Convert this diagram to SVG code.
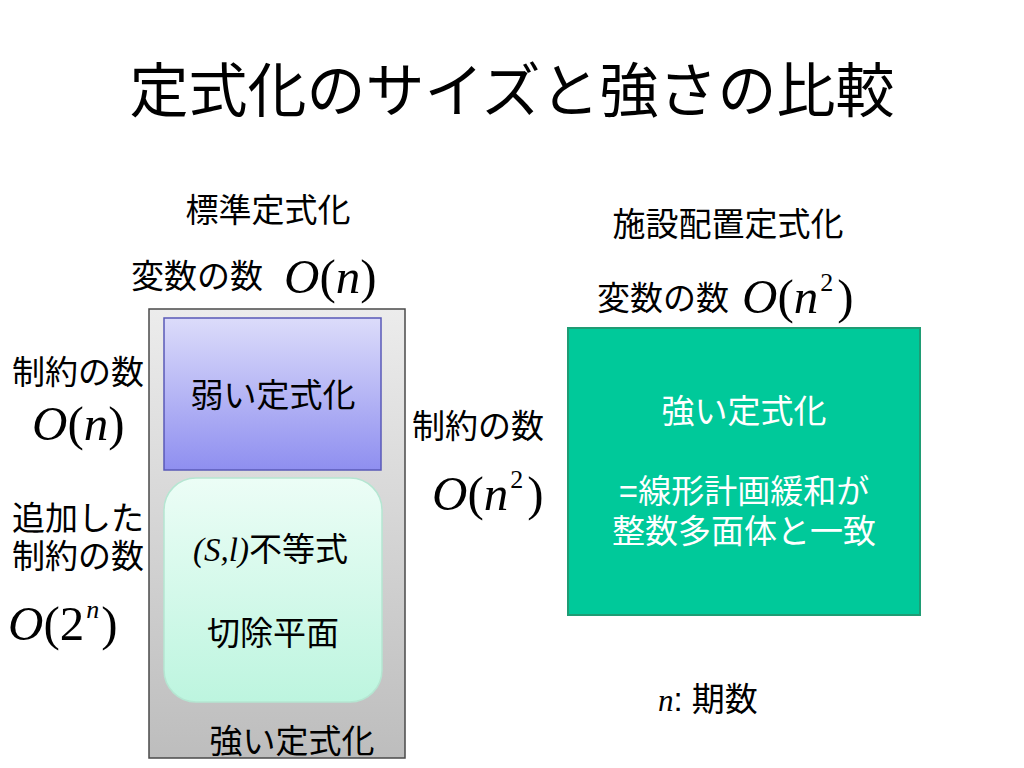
<svg xmlns="http://www.w3.org/2000/svg" width="1024" height="768" viewBox="0 0 1024 768">
<style>
.jp{font-family:"Liberation Sans","Noto Sans CJK JP",sans-serif;fill:#000}
.m{font-family:"Liberation Serif","Times New Roman",serif;font-style:italic;fill:#000}
.mr{font-family:"Liberation Serif","Times New Roman",serif;font-style:normal}
</style>
<defs>
<linearGradient id="gGray" x1="0" y1="0" x2="0" y2="1">
<stop offset="0" stop-color="#ececec"/><stop offset="1" stop-color="#bdbdbd"/>
</linearGradient>
<linearGradient id="gPurple" x1="0" y1="0" x2="0" y2="1">
<stop offset="0" stop-color="#dcdcfa"/><stop offset="1" stop-color="#8f8ff0"/>
</linearGradient>
<linearGradient id="gMint" x1="0" y1="0" x2="0" y2="1">
<stop offset="0" stop-color="#ecfdf6"/><stop offset="1" stop-color="#bdf5df"/>
</linearGradient>
</defs>
<rect width="1024" height="768" fill="#fff"/>
<text class="jp" x="512" y="112" font-size="59" text-anchor="middle">定式化のサイズと強さの比較</text>

<g id="left-header">
<text class="jp" x="268" y="222" font-size="33" text-anchor="middle">標準定式化</text>
<text class="jp" x="131" y="288" font-size="33">変数の数</text>
<text class="m" x="284" y="293" font-size="49"><tspan>O</tspan><tspan class="mr">(</tspan><tspan>n</tspan><tspan class="mr">)</tspan></text>
</g>

<g id="strong-left">
<rect x="149" y="309" width="256" height="449" fill="url(#gGray)" stroke="#4a4a4a" stroke-width="1.5"/>
<text class="jp" x="292" y="753" font-size="33" text-anchor="middle">強い定式化</text>
</g>

<g id="weak">
<rect x="164" y="318" width="217" height="152" fill="url(#gPurple)" stroke="#5a5ab8" stroke-width="1.5"/>
<text class="jp" x="273" y="407" font-size="33" text-anchor="middle">弱い定式化</text>
</g>

<g id="cuts">
<rect x="164" y="478" width="218" height="224" rx="32" fill="url(#gMint)" stroke="#b5e6d2" stroke-width="1.5"/>
<text x="193" y="561" font-size="33"><tspan class="m" font-size="33">(S,l)</tspan><tspan class="jp">不等式</tspan></text>
<text class="jp" x="273" y="645" font-size="33" text-anchor="middle">切除平面</text>
</g>

<g id="left-labels">
<text class="jp" x="12" y="384" font-size="33">制約の数</text>
<text class="m" x="32" y="440" font-size="49"><tspan>O</tspan><tspan class="mr">(</tspan><tspan>n</tspan><tspan class="mr">)</tspan></text>
<text class="jp" x="12" y="530" font-size="33">追加した</text>
<text class="jp" x="12" y="568" font-size="33">制約の数</text>
<text class="m" x="8" y="640" font-size="49"><tspan>O</tspan><tspan class="mr">(2</tspan><tspan font-size="26" dx="2" dy="-22">n</tspan><tspan class="mr" dx="2" dy="22">)</tspan></text>
</g>

<g id="right-header">
<text class="jp" x="728" y="236" font-size="33" text-anchor="middle">施設配置定式化</text>
<text class="jp" x="597" y="310" font-size="33">変数の数</text>
<text class="m" x="742" y="313" font-size="49"><tspan>O</tspan><tspan class="mr">(</tspan><tspan>n</tspan><tspan class="mr" font-size="26" dx="2" dy="-22">2</tspan><tspan class="mr" dx="4" dy="22">)</tspan></text>
</g>

<g id="facility">
<rect x="568" y="328" width="352" height="287" fill="#00c99a" stroke="#1f9c74" stroke-width="2"/>
<text class="jp" x="744" y="423" font-size="33" text-anchor="middle" style="fill:#fff">強い定式化</text>
<text class="jp" x="744" y="503" font-size="33" text-anchor="middle" style="fill:#fff">=線形計画緩和が</text>
<text class="jp" x="744" y="543" font-size="33" text-anchor="middle" style="fill:#fff">整数多面体と一致</text>
</g>

<g id="right-labels">
<text class="jp" x="412" y="438" font-size="33">制約の数</text>
<text class="m" x="432" y="510" font-size="49"><tspan>O</tspan><tspan class="mr">(</tspan><tspan>n</tspan><tspan class="mr" font-size="26" dx="2" dy="-22">2</tspan><tspan class="mr" dx="4" dy="22">)</tspan></text>
<text x="658" y="711" font-size="33"><tspan class="m" font-size="31">n</tspan><tspan class="jp">: 期数</tspan></text>
</g>
<g id="connectors"/>
</svg>
